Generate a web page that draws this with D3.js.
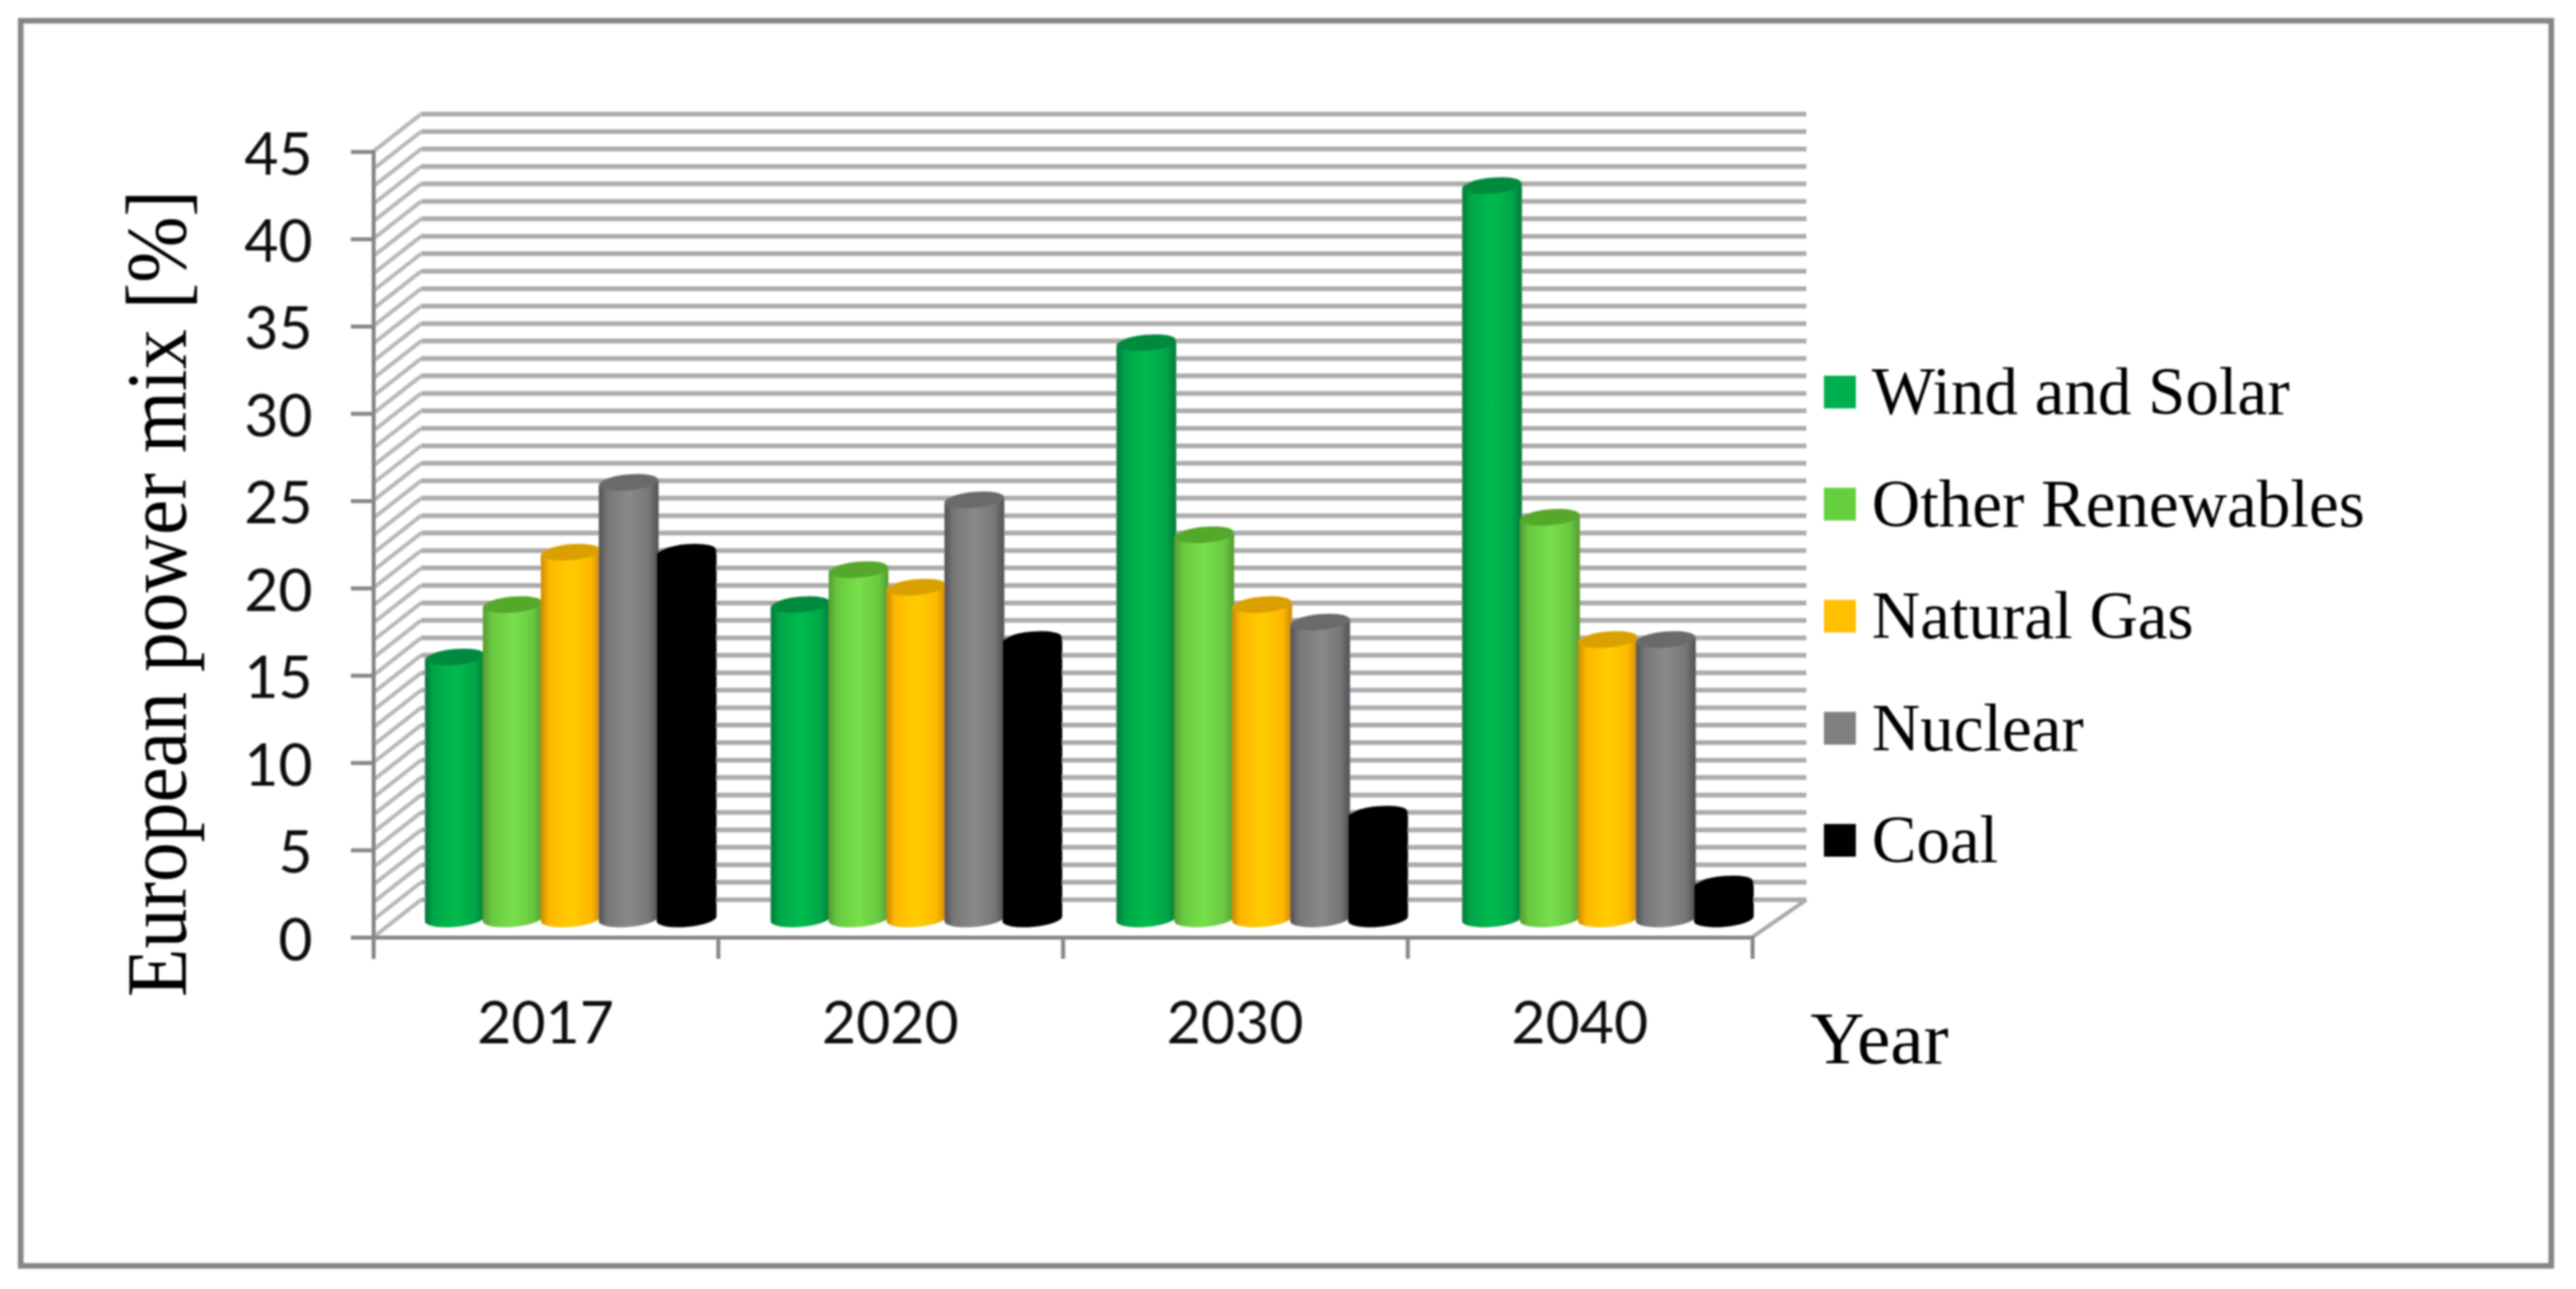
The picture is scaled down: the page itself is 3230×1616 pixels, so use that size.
<!DOCTYPE html>
<html>
<head>
<meta charset="utf-8">
<script src="https://cdnjs.cloudflare.com/ajax/libs/d3/7.8.5/d3.min.js"></script>
<style>
  html, body { margin: 0; padding: 0; background: #fff; }
  svg { display: block; }
  .sans { font-family: Lato, sans-serif; fill: #111; }
  .serif { font-family: "Liberation Serif", serif; fill: #000; }
</style>
</head>
<body>
<script>
// chart values
var years = ["2017", "2020", "2030", "2040"];
var seriesNames = ["Wind and Solar", "Other Renewables", "Natural Gas", "Nuclear", "Coal"];
var windSolar = [15, 18, 33, 42];
var otherRenewables = [18, 20, 22, 23];
var naturalGas = [21, 19, 18, 16];
var nuclear = [25, 24, 17, 16];
var coal = [21, 16, 6, 2];
var seriesValues = [windSolar, otherRenewables, naturalGas, nuclear, coal];
var yTicks = [0, 5, 10, 15, 20, 25, 30, 35, 40, 45];

var legendColors = ["#00b04f", "#66cf3c", "#ffc000", "#808080", "#000000"];
// edge, shoulder, centre, cap
var barShades = [
  ["#007a38", "#00a548", "#00bb4e", "#008a3c"],
  ["#559a30", "#68c840", "#78e04a", "#55a82a"],
  ["#c98a00", "#ffb800", "#ffcc00", "#d9a000"],
  ["#4f4f58", "#767676", "#8a8a8a", "#6a6a6a"],
  ["#000000", "#000000", "#000000", "#000000"]
];

var W = 3230, H = 1616;
var axisColor = "#868686", gridColor = "#acacac";

// front plane of the 3d box
var x0 = 468, x1 = 2197, y0 = 1175, y1 = 190;
var depthXLeft = 60, depthXRight = 68, depthY = -47;
// bars stand in the middle of the box
var barDX = 33, barDY = -23;

var y = d3.scaleLinear().domain([0, 45]).range([y0, y1]);
var xGroup = d3.scaleBand().domain(years).range([x0, x1]);
var xBarGroup = d3.scaleBand().domain(years).range([x0, x1 + 5]);
var xBar = d3.scaleBand().domain(seriesNames).range([33, xGroup.bandwidth() - 36]);
var xEdge = d3.scaleLinear().domain([0, years.length]).range([x0, x1]);

var svg = d3.select("body").append("svg")
  .attr("width", W)
  .attr("height", H);

var defs = svg.append("defs");
defs.append("filter").attr("id", "soft")
  .attr("x", "-2%").attr("y", "-2%").attr("width", "104%").attr("height", "104%")
  .append("feGaussianBlur").attr("stdDeviation", 1.3);

seriesNames.forEach(function(name, i) {
  var g = defs.append("linearGradient").attr("id", "cyl" + i);
  var s = barShades[i];
  [[0, s[0]], [0.14, s[1]], [0.5, s[2]], [0.84, s[1]], [1, s[0]]].forEach(function(st) {
    g.append("stop").attr("offset", st[0]).attr("stop-color", st[1]);
  });
});

var root = svg.append("g").attr("filter", "url(#soft)");

// outer frame
root.append("rect")
  .attr("x", 26).attr("y", 26)
  .attr("width", 3173).attr("height", 1561)
  .attr("fill", "none")
  .attr("stroke", "#858585")
  .attr("stroke-width", 7);

// back wall and side wall, one line per unit
var gridValues = d3.range(0, 46);
root.append("g").selectAll("line.back")
  .data(gridValues).enter().append("line")
  .attr("class", "back")
  .attr("x1", x0 + depthXLeft).attr("x2", x1 + depthXRight)
  .attr("y1", function(d) { return y(d) + depthY; })
  .attr("y2", function(d) { return y(d) + depthY; })
  .attr("stroke", gridColor).attr("stroke-width", 6);

root.append("g").selectAll("line.side")
  .data(gridValues).enter().append("line")
  .attr("class", "side")
  .attr("x1", x0).attr("x2", x0 + depthXLeft)
  .attr("y1", function(d) { return y(d); })
  .attr("y2", function(d) { return y(d) + depthY; })
  .attr("stroke", "#b8b8b8").attr("stroke-width", 5);

// floor right edge
root.append("line")
  .attr("x1", x1).attr("y1", y0)
  .attr("x2", x1 + depthXRight).attr("y2", y0 + depthY)
  .attr("stroke", "#a8a8a8").attr("stroke-width", 5);

// cylinders
var tilt = 5, rx = 37.5, ry = 10;
var tiltDy = rx * Math.sin(tilt * Math.PI / 180);

function bodyPath(cx, top, bottom) {
  return "M" + (cx - rx) + "," + (top + tiltDy) +
    "L" + (cx - rx) + "," + (bottom + tiltDy) +
    "A" + rx + "," + ry + " " + (-tilt) + " 0 0 " + (cx + rx) + "," + (bottom - tiltDy) +
    "L" + (cx + rx) + "," + (top - tiltDy) + "Z";
}

years.forEach(function(year, j) {
  var group = root.append("g").attr("class", "year-" + year);
  seriesNames.forEach(function(name, i) {
    var cx = xBarGroup(year) + xBar(name) + xBar.bandwidth() / 2 + barDX;
    var top = y(seriesValues[i][j]) + barDY;
    var bottom = y(0) + barDY;
    group.append("path")
      .attr("d", bodyPath(cx, top, bottom))
      .attr("fill", "url(#cyl" + i + ")");
    group.append("ellipse")
      .attr("cx", cx).attr("cy", top)
      .attr("rx", rx).attr("ry", ry)
      .attr("transform", "rotate(" + (-tilt) + " " + cx + " " + top + ")")
      .attr("fill", barShades[i][3]);
  });
});

// y axis
var yAxis = root.append("g")
  .attr("transform", "translate(" + x0 + ",0)")
  .call(d3.axisLeft(y).tickValues(yTicks).tickSize(28).tickPadding(48));
yAxis.select(".domain").attr("stroke", axisColor).attr("stroke-width", 5);
yAxis.selectAll(".tick line").attr("stroke", axisColor).attr("stroke-width", 5);
yAxis.selectAll(".tick text")
  .attr("class", "sans")
  .attr("font-size", 74)
  .attr("dy", 28);

// x axis: ticks on the category edges, labels in the middle
var xTicks = root.append("g")
  .attr("transform", "translate(0," + y0 + ")")
  .call(d3.axisBottom(xEdge).tickValues(d3.range(0, years.length + 1)).tickSize(27).tickFormat(""));
xTicks.select(".domain").attr("stroke", axisColor).attr("stroke-width", 5);
xTicks.selectAll(".tick line").attr("stroke", axisColor).attr("stroke-width", 5);

var xLabels = root.append("g")
  .attr("transform", "translate(0," + y0 + ")")
  .call(d3.axisBottom(xGroup).tickSize(0).tickPadding(80));
xLabels.select(".domain").remove();
xLabels.selectAll(".tick text")
  .attr("class", "sans")
  .attr("font-size", 74);

// axis titles
root.append("text")
  .attr("class", "serif")
  .attr("transform", "translate(233,1250) rotate(-90) scale(0.96,1.03)")
  .attr("font-size", 104)
  .text("European power mix [%]");

root.append("text")
  .attr("class", "serif")
  .attr("x", 2270).attr("y", 1333)
  .attr("font-size", 94)
  .text("Year");

// legend
var legend = root.append("g").selectAll("g")
  .data(seriesNames).enter().append("g")
  .attr("transform", function(d, i) { return "translate(0," + (492 + i * 140.5) + ")"; });

legend.append("rect")
  .attr("x", 2287).attr("y", -21)
  .attr("width", 40).attr("height", 41)
  .attr("fill", function(d, i) { return legendColors[i]; });

legend.append("text")
  .attr("class", "serif")
  .attr("x", 2347).attr("y", 27)
  .attr("font-size", 84)
  .text(function(d) { return d; });
</script>
</body>
</html>
